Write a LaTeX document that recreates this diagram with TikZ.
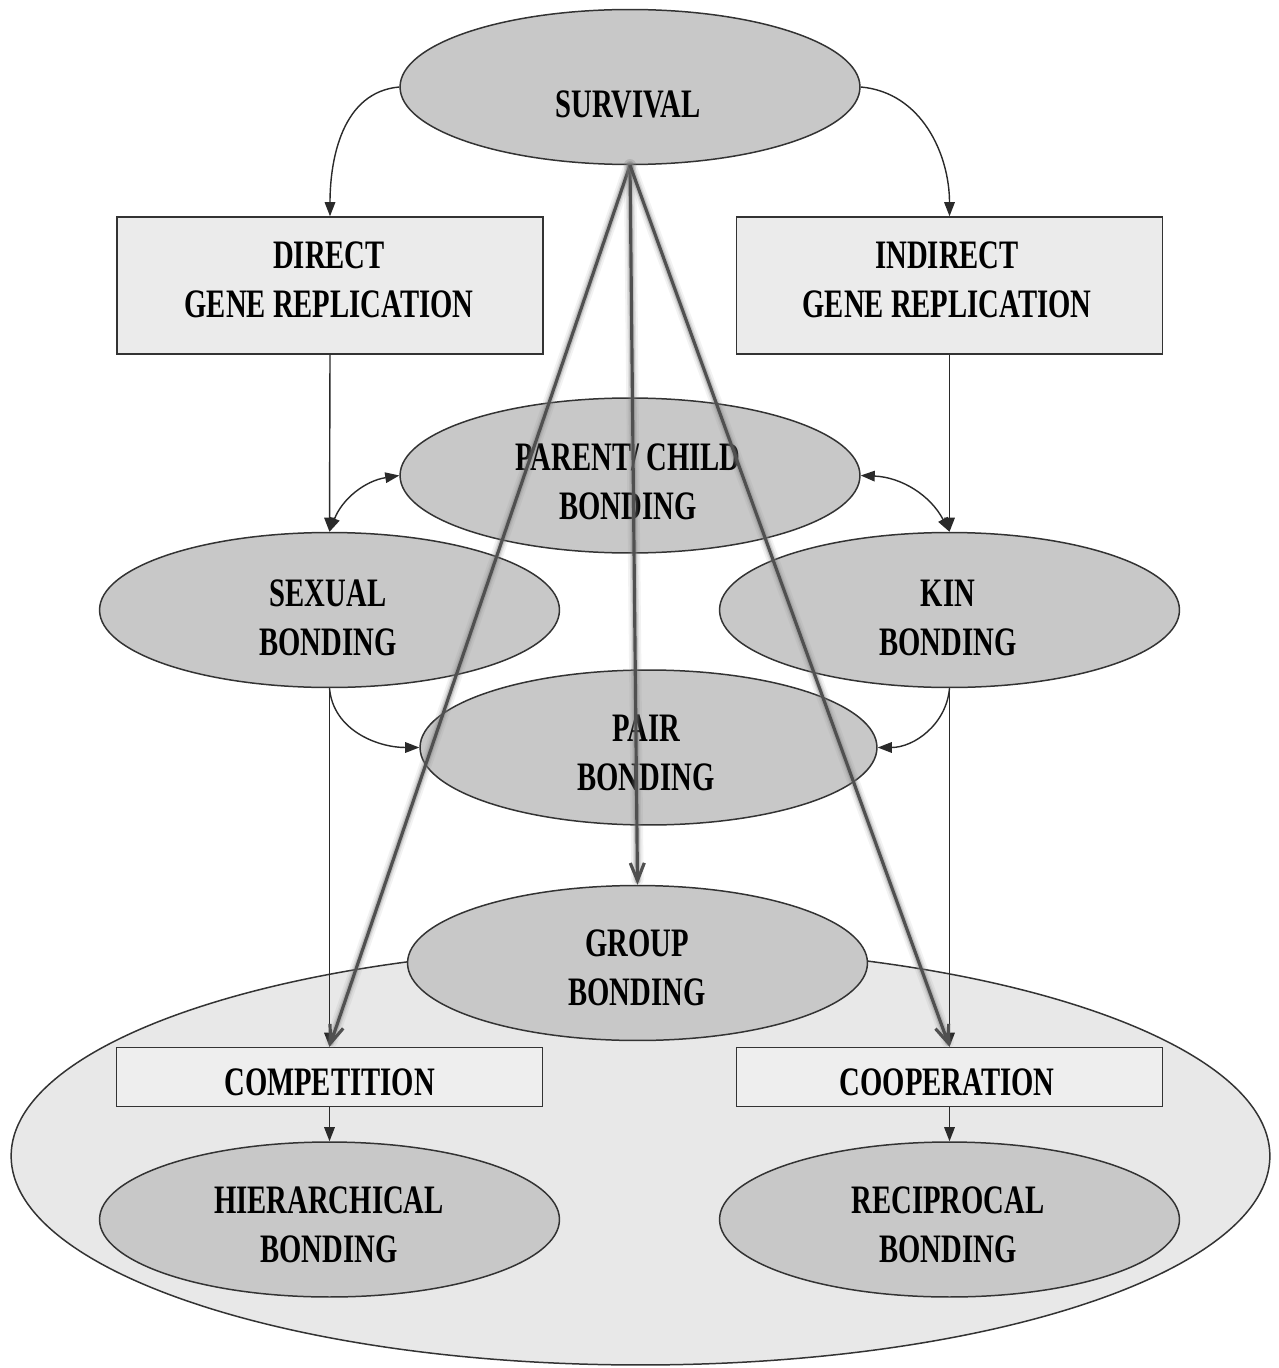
\documentclass[tikz,border=0pt]{standalone}
\usepackage{fontspec}
\newfontfamily\lblfont{Liberation Serif}[FakeStretch=0.71]
\usetikzlibrary{shapes.geometric,arrows.meta}
\definecolor{ellfill}{HTML}{C8C8C8}
\definecolor{boxfill}{HTML}{EBEBEB}
\definecolor{boxfillb}{HTML}{EEEEEE}
\definecolor{bigfill}{HTML}{E8E8E8}
\definecolor{edgecol}{HTML}{333333}
\definecolor{conncol}{HTML}{2A2A2A}
\definecolor{thickcol}{HTML}{505050}
\begin{document}
\begin{tikzpicture}[x=0.02cm,y=0.02cm,
  ell/.style={ellipse, draw=edgecol, line width=0.85pt, fill=ellfill, minimum width=9.2cm, minimum height=3.1cm, inner sep=0pt},
  bigell/.style={ellipse, draw=edgecol, line width=0.85pt, fill=bigfill, minimum width=25.18cm, minimum height=8.36cm, inner sep=0pt},
  rbox/.style={rectangle, draw=edgecol, line width=0.85pt, fill=boxfill, minimum width=8.52cm, minimum height=2.74cm, inner sep=0pt},
  sbox/.style={rbox, minimum height=1.18cm, fill=boxfillb},
  lbl/.style={font=\lblfont\bfseries\fontsize{23}{27.9}\selectfont, align=center, inner sep=0pt, text=black},
  conn/.style={draw=conncol, line width=0.8pt, -{Triangle[length=8pt,width=6pt]}},
  bconn/.style={draw=conncol, line width=0.8pt, {Triangle[length=8pt,width=6pt]}-{Triangle[length=8pt,width=6pt]}},
  haloa/.style={draw=gray, line width=7pt, opacity=0.10, line cap=round, shorten >=3pt},
  halob/.style={draw=gray, line width=4.8pt, opacity=0.16, line cap=round, shorten >=3pt},
  haloc/.style={draw=gray, line width=3.2pt, opacity=0.3, line cap=round, shorten >=2pt},
  thickln/.style={draw=thickcol, line width=1.8pt, -{Straight Barb[length=10pt,width=8pt]}},
]
\useasboundingbox (0,0) rectangle (1278,-1368);
\fill[white] (0,0) rectangle (1278,-1368);

\node[bigell] (bigE) at (640.5,-1156) {};

\node[ell] (surv) at (630,-87) {};
\node[rbox] (dir) at (330,-285.5) {};
\node[rbox] (ind) at (949.5,-285.5) {};
\node[ell] (par) at (630,-475.5) {};
\node[ell] (sex) at (329.5,-610) {};
\node[ell] (kin) at (949.5,-610) {};
\node[ell, minimum width=9.14cm] (pair) at (648.5,-747.5) {};
\node[ell] (grp) at (637.5,-963) {};
\node[sbox] (comp) at (329.5,-1077) {};
\node[sbox] (coop) at (949.5,-1077) {};
\node[ell] (hier) at (329.5,-1219.5) {};
\node[ell] (rec) at (949.5,-1219.5) {};

\node[lbl] (survT) at (628,-104.5) {SURVIVAL};
\node[lbl] (dirT) at (329,-280) {DIRECT\\GENE REPLICATION};
\node[lbl] (indT) at (947,-280) {INDIRECT\\GENE REPLICATION};
\node[lbl] (parT) at (628,-481.5) {PARENT/ CHILD\\BONDING};
\node[lbl] (sexT) at (328,-617.5) {SEXUAL\\BONDING};
\node[lbl] (kinT) at (948,-617.5) {KIN\\BONDING};
\node[lbl] (pairT) at (646,-752.5) {PAIR\\BONDING};
\node[lbl] (grpT) at (637,-967.5) {GROUP\\BONDING};
\node[lbl] (compT) at (329.5,-1082.5) {COMPETITION};
\node[lbl] (coopT) at (947,-1082.5) {COOPERATION};
\node[lbl] (hierT) at (329,-1225) {HIERARCHICAL\\BONDING};
\node[lbl] (recT) at (948,-1225) {RECIPROCAL\\BONDING};

\draw[conn] (surv.west) to[out=185,in=90] (dir.north);
\draw[conn] (surv.east) to[out=-5,in=90] (ind.north);
\draw[conn] (dir.south) -- (sex.north);
\draw[conn] (ind.south) -- (kin.north);
\draw[bconn] (sex.north) to[bend left=30] (par.west);
\draw[bconn] (kin.north) to[bend right=30] (par.east);
\draw[conn] (sex.south) to[out=-85,in=180] (pair.west);
\draw[conn] (kin.south) to[out=-95,in=0] (pair.east);
\draw[conn] (sex.south) -- (comp.north);
\draw[conn] (kin.south) -- (coop.north);
\draw[conn] (comp.south) -- (hier.north);
\draw[conn] (coop.south) -- (rec.north);

\foreach \t in {comp,grp,coop} {
  \draw[haloa] (surv.south) -- (\t.north);
  \draw[halob] (surv.south) -- (\t.north);
  \draw[haloc] (surv.south) -- (\t.north);
  \draw[thickln] (surv.south) -- (\t.north);
}
\end{tikzpicture}
\end{document}
